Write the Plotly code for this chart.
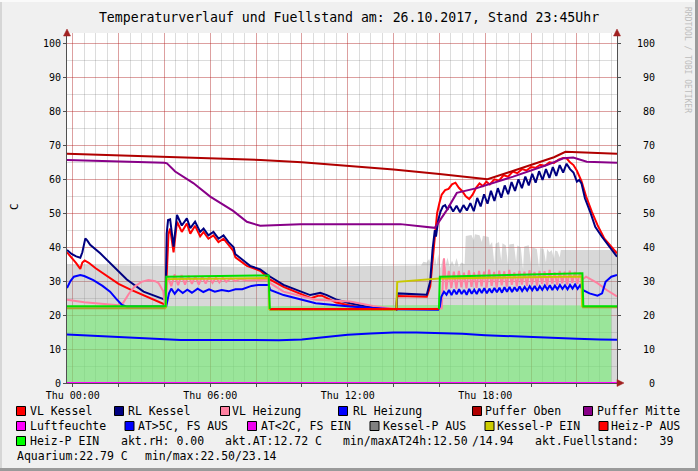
import plotly.graph_objects as go

# ---------------- data (time in hours from Thu 00:00) ----------------
X_TICK_HOURS = [0, 6, 12, 18]
X_TICK_LABELS = ["Thu 00:00", "Thu 06:00", "Thu 12:00", "Thu 18:00"]
Y_TICKS = [0, 10, 20, 30, 40, 50, 60, 70, 80, 90, 100]

# Fuellstand (grey area)
FS_T = [-0.25, 2, 5, 8, 11, 14, 15.2, 15.3, 15.45, 15.55, 15.6, 15.7,
        15.75, 15.8, 15.88, 15.95, 16.05, 16.15, 16.25, 16.35, 16.45, 16.55,
        16.65, 16.75, 16.85, 16.95, 17.1, 17.15, 17.4, 17.5, 17.55, 17.75,
        17.85, 17.9, 18.15, 18.2, 18.3, 18.4, 18.45, 18.6, 18.7, 18.75,
        18.9, 19.0, 19.05, 19.25, 19.35, 19.4, 19.55, 19.65, 19.7, 19.9,
        20.0, 20.05, 20.25, 20.35, 20.4, 20.55, 20.65, 20.7, 20.8, 20.9,
        21.0, 21.05, 21.15, 21.25, 21.3, 23.75]
FS_V = [34.8, 34.6, 34.4, 34.2, 34.3, 34.5, 34.6, 35.7, 35.5, 36.5, 35.5, 35.8,
        34.0, 37.5, 34.5, 38.0, 33.8, 36.5, 34.0, 37.0, 34.3, 36.0,
        34.5, 36.8, 34.2, 35.5, 35.0, 43.3, 43.6, 42.0, 43.8, 43.5,
        41.5, 43.4, 43.0, 40.5, 41.5, 35.0, 41.0, 41.5, 36.0, 41.2,
        40.5, 34.5, 40.8, 41.0, 35.5, 40.5, 40.0, 33.5, 40.2, 40.6,
        35.0, 40.0, 39.5, 34.0, 39.8, 39.5, 35.5, 39.5, 38.5, 39.2,
        36.5, 39.0, 38.8, 37.0, 39.2, 39.2]

# Aquarium (green area)
AQ_T = [-0.25, 4, 8, 12, 16, 20, 23.5]
AQ_V = [22.7, 22.6, 22.6, 22.8, 23.0, 22.9, 22.8]

# VL Kessel
VLK_T = [-0.25, -0.05, 0.15, 0.33, 0.42, 0.52, 0.7, 1.0, 1.5, 2.0, 2.5, 3.0, 3.5, 3.8, 4.0, 4.04,
         4.1, 4.18, 4.25, 4.4, 4.55, 4.76, 4.98, 5.13, 5.34, 5.56, 5.71, 5.92, 6.14, 6.36, 6.58, 6.8,
         7.0, 7.1, 7.6, 8.2, 8.6, 9.2, 9.9, 10.4, 10.7, 10.85, 11.1, 11.5, 12.1, 12.8, 14.0, 14.12,
         14.16, 15.45,
         15.6, 15.7, 15.8, 15.9, 16.0, 16.1, 16.25, 16.4, 16.55, 16.7, 16.85, 17.0, 17.15, 17.3,
         17.45, 17.6, 17.75, 17.9, 18.05, 18.2, 18.4, 18.6, 18.8, 19.0, 19.2, 19.4, 19.6, 19.8,
         20.0, 20.2, 20.4, 20.6, 20.8, 21.0, 21.2, 21.4, 21.55, 21.7, 21.85, 22.0, 22.2, 22.4,
         22.65, 22.9, 23.2, 23.5, 23.75]
VLK_V = [38.5, 37.0, 35.3, 33.6, 35.5, 36.1, 35.4, 33.8, 31.5, 29.2, 27.6, 26.2, 24.8, 24.0, 23.2, 22.4,
         30.0, 44.0, 45.5, 38.5, 47.5, 44.5, 47.0, 44.0, 46.3, 43.2, 44.5, 42.5, 43.5, 41.5, 42.5, 40.5,
         39.0, 37.0, 34.5, 33.0, 30.5, 28.3, 26.3, 25.0, 25.7, 25.8, 25.0, 23.7, 22.8, 22.0, 21.5, 21.5,
         25.6, 25.4,
         28.5, 36.0, 44.0, 50.0, 53.0, 55.5, 56.8, 57.2, 58.5, 59.0, 57.5, 56.5, 55.0, 54.2,
         55.5, 57.5, 58.8, 58.0, 59.3, 58.5, 60.0, 59.6, 61.2, 60.8, 62.3, 61.8, 63.0, 62.6,
         63.6, 63.4, 64.3, 64.0, 65.0, 64.8, 65.8, 66.3, 66.2, 65.0, 64.2, 62.5, 59.5, 55.0,
         50.5, 46.5, 42.5, 40.0, 38.2]

# RL Kessel
RLK_T = [-0.25, -0.05, 0.15, 0.33, 0.42, 0.55, 0.63, 0.76, 1.2, 1.64, 2.07, 2.36, 3.09, 3.82, 4.0, 4.05,
         4.1, 4.16, 4.25, 4.4, 4.55, 4.76, 4.98, 5.13, 5.34, 5.56, 5.71, 5.92, 6.14, 6.36, 6.58, 6.8,
         7.02, 7.09, 7.6, 7.74, 8.18, 8.62, 9.2, 9.93, 10.36, 10.62, 10.8, 11.09, 11.53, 12.1, 12.84,
         14.0, 14.12, 14.16, 15.45,
         15.6, 15.7, 15.8, 15.85, 15.95, 16.05, 16.15, 16.25, 16.35, 16.45, 16.6, 16.75, 16.9, 17.05,
         17.2, 17.35, 17.5, 17.65, 17.8, 17.95, 18.1, 18.25, 18.4, 18.55, 18.7, 18.85, 19.0, 19.15,
         19.3, 19.45, 19.6, 19.75, 19.9, 20.05, 20.2, 20.35, 20.5, 20.65, 20.8, 20.95, 21.1, 21.25,
         21.4, 21.55, 21.7, 21.85, 22.0, 22.1, 22.2, 22.35, 22.6, 22.8, 23.1, 23.4, 23.75]
RLK_V = [39.2, 38.0, 37.3, 36.9, 38.5, 42.6, 42.0, 40.7, 38.2, 35.3, 32.5, 30.5, 26.9, 25.0, 24.5, 24.5,
         44.0, 48.0, 48.2, 40.2, 49.5, 46.4, 48.5, 45.6, 47.5, 44.5, 45.5, 43.5, 44.5, 42.5, 43.5, 41.5,
         40.0, 38.0, 35.3, 34.5, 33.5, 31.3, 28.9, 26.9, 25.9, 26.3, 26.6, 25.9, 24.5, 23.5, 22.5,
         21.7, 21.7, 26.4, 26.0,
         30.0, 39.2, 45.0, 43.1, 48.0, 50.5, 52.0, 52.4, 51.0, 52.4, 50.5, 52.2, 50.3, 52.4,
         50.8, 53.0, 50.6, 54.5, 52.0, 55.6, 52.8, 56.6, 53.6, 57.4, 54.6, 58.2, 55.6, 59.2,
         56.6, 60.0, 57.4, 60.8, 58.2, 61.6, 59.0, 62.4, 59.8, 63.0, 60.4, 63.6, 61.0, 64.2,
         62.0, 64.6, 63.0, 62.0, 59.3, 59.8, 58.8, 54.4, 50.0, 46.0, 43.0, 40.2, 37.2]

# VL Heizung
VLH_T = [-0.25, 0.5, 1.5, 2.0, 2.2, 2.45, 2.7, 3.0, 3.3, 3.6, 3.75, 3.95, 4.03,
         4.08, 4.15, 4.3, 4.45, 4.6, 4.75, 4.9, 5.05, 5.2, 5.35, 5.5, 5.65, 5.8, 5.95, 6.1, 6.25,
         6.4, 6.55, 6.7, 6.9, 7.1, 7.3, 7.6, 8.0, 8.5, 8.62, 9.2, 10.6, 11.5, 12.1, 13.1, 14.0,
         15.6, 16.1,
         16.2, 16.3, 16.41, 16.52, 16.63, 16.74, 16.85, 16.96, 17.07, 17.18, 17.29, 17.4, 17.51,
         17.62, 17.73, 17.84, 17.95, 18.06, 18.17, 18.28, 18.39, 18.5, 18.61, 18.72, 18.83, 18.94,
         19.05, 19.16, 19.27, 19.38, 19.49, 19.6, 19.71, 19.82, 19.93, 20.04, 20.15, 20.26, 20.37,
         20.48, 20.59, 20.7, 20.81, 20.92, 21.03, 21.14, 21.25, 21.36, 21.47, 21.58, 21.69, 21.8,
         21.91, 22.02, 22.13, 22.24, 22.4, 22.9, 23.3, 23.75]
VLH_V = [24.5, 23.8, 23.2, 22.9, 23.6, 26.3, 28.4, 29.8, 30.3, 30.0, 29.4, 27.0, 22.5,
         27.0, 31.5, 28.5, 32.0, 28.8, 31.8, 29.0, 31.6, 29.2, 31.5, 29.0, 31.4, 29.3, 31.2, 29.5, 31.0,
         29.6, 31.0, 29.8, 30.8, 30.0, 30.6, 30.2, 30.4, 30.5, 29.4, 26.9, 24.5, 24.1, 24.0, 22.7, 21.9,
         21.7, 22.0,
         36.7, 27.5, 33.0, 28.0, 32.8, 27.8, 33.0, 28.2, 32.5, 27.9, 33.2, 28.3, 32.6,
         28.0, 33.0, 28.5, 32.8, 28.1, 33.4, 28.6, 32.7, 28.2, 33.1, 28.8, 32.9, 28.4,
         33.3, 28.9, 32.6, 28.5, 33.0, 29.0, 32.8, 28.6, 33.2, 29.1, 32.7, 28.7, 33.0,
         29.2, 32.9, 28.8, 33.3, 29.3, 32.6, 28.9, 33.0, 29.4, 32.8, 29.0, 33.1, 29.5,
         32.7, 29.2, 32.5, 30.5, 31.3, 29.4, 27.4, 25.5]

# RL Heizung
RLH_T = [-0.25, -0.1, 0.05, 0.33, 0.5, 0.9, 1.3, 1.63, 1.9, 2.15, 2.36, 4.0, 4.08,
         4.2, 4.3, 4.45, 4.6, 4.8, 5.0, 5.2, 5.45, 5.7, 5.95, 6.2, 6.5, 6.8, 7.1, 7.4, 7.8, 8.1,
         8.45, 8.55, 8.62, 9.2, 10.6, 12.1, 14.0, 15.95, 16.02,
         16.08, 16.2, 16.31, 16.42, 16.53, 16.64, 16.75, 16.86, 16.97, 17.08, 17.19, 17.3, 17.41,
         17.52, 17.63, 17.74, 17.85, 17.96, 18.07, 18.18, 18.29, 18.4, 18.51, 18.62, 18.73, 18.84,
         18.95, 19.06, 19.17, 19.28, 19.39, 19.5, 19.61, 19.72, 19.83, 19.94, 20.05, 20.16, 20.27,
         20.38, 20.49, 20.6, 20.71, 20.82, 20.93, 21.04, 21.15, 21.26, 21.37, 21.48, 21.59, 21.7,
         21.81, 21.92, 22.03, 22.14, 22.25, 22.55, 22.9, 23.1, 23.25, 23.5, 23.75]
RLH_V = [28.0, 30.0, 31.3, 31.8, 31.5, 30.3, 28.6, 26.9, 24.8, 23.0, 22.5, 22.4, 22.6,
         26.4, 27.8, 26.3, 27.6, 26.5, 27.5, 26.6, 27.8, 26.8, 27.6, 26.9, 27.4, 27.0, 27.6, 27.6, 28.6, 28.9,
         28.9, 28.9, 27.4, 25.9, 23.5, 22.5, 21.7, 21.6, 22.5,
         25.4, 26.9, 26.0, 27.4, 25.9, 27.5, 26.1, 27.6, 26.2, 27.4, 26.0, 27.7, 26.3,
         27.5, 26.2, 27.8, 26.5, 27.9, 26.4, 27.8, 26.6, 28.0, 26.7, 28.1, 26.6, 28.2,
         26.9, 28.3, 26.8, 28.2, 27.0, 28.4, 27.1, 28.3, 27.2, 28.5, 27.3, 28.6, 27.2,
         28.5, 27.4, 28.7, 27.5, 28.8, 27.4, 28.7, 27.6, 28.9, 27.7, 28.8, 27.6, 28.9,
         27.8, 29.0, 27.7, 28.8, 27.4, 26.4, 25.7, 26.4, 29.8, 31.3, 31.8]

# Puffer Oben
PO_T = [-0.25, 2, 4, 6, 8.2, 10, 12, 14, 16, 17, 17.6, 18.1, 19.0, 20.0, 21.0, 21.5, 22.0, 23.0, 23.75]
PO_V = [67.5, 67.0, 66.6, 66.2, 65.7, 65.0, 64.0, 62.9, 61.6, 60.9, 60.3, 60.0, 62.0, 64.3, 66.5, 68.1, 68.0, 67.7, 67.5]

# Puffer Mitte
PM_T = [-0.25, 2, 4.0, 4.11, 4.47, 5.26, 6.0, 7.0, 7.6, 8.18, 9.93, 14.3, 15.8, 16.33, 16.76,
        17.63, 19.22, 20.69, 21.41, 21.84, 22.43, 23.75]
PM_V = [65.7, 65.3, 64.9, 64.7, 62.3, 58.9, 54.9, 50.7, 47.5, 46.3, 46.8, 46.8, 45.7, 51.0, 56.0,
        57.4, 60.8, 64.2, 66.2, 66.4, 65.2, 64.9]

# Luftfeuchte (akt.rH 0.00)
LF_T = [-0.25, 23.75]
LF_V = [0.0, 0.0]

# Aussentemperatur
AT_T = [-0.25, 1.0, 2.4, 3.8, 4.7, 6.0, 7.0, 8.0, 9.0, 10.0, 10.7, 12.0, 13.0, 14.0, 15.0, 16.0,
        17.0, 18.0, 19.0, 20.0, 21.0, 22.0, 23.0, 23.75]
AT_V = [14.3, 13.9, 13.5, 12.9, 12.7, 12.7, 12.6, 12.5, 12.6, 12.8, 13.3, 14.2, 14.6, 14.9, 14.9, 14.8,
        14.5, 14.1, 13.8, 13.4, 13.2, 13.0, 12.8, 12.72]

# Kessel-Pumpe
KE_T = [4.06, 4.09, 8.55, 8.58, None, 14.12, 14.16, 16.0, 19.0, 22.2, 22.23]
KE_V = [22.0, 30.6, 30.9, 21.5, None, 21.5, 29.8, 30.8, 31.1, 31.4, 22.3]
KA_T = [-0.25, 4.06, None, 8.58, 14.12, None, 22.23, 23.75]
KA_V = [22.0, 22.0, None, 21.5, 21.5, None, 22.3, 22.3]

# Heiz-Pumpe
HE_T = [-0.25, 4.05, 4.08, 6.0, 8.55, 8.6, None, 15.98, 16.02, 19.0, 22.24, 22.28, 23.75]
HE_V = [22.6, 22.6, 31.3, 31.5, 31.7, 21.8, None, 21.8, 31.3, 31.8, 32.3, 22.6, 22.6]
HA_T = [8.6, 15.98]
HA_V = [21.8, 21.8]

# ---------------- styling ----------------
C_VLK, C_RLK, C_VLH, C_RLH = "#FF0000", "#000080", "#FF80A0", "#0000FF"
C_PO, C_PM, C_LF = "#B00000", "#880088", "#FF00FF"
C_AT1, C_AT2 = "#0000FF", "#EE00EE"
C_KA, C_KE, C_HA, C_HE = "#808080", "#CCCC00", "#FF0000", "#00FF00"

MONO = "DejaVu Sans Mono"
W, H = 698, 471
L, R, T, B = 67, 617, 33, 383
PW, PH = R - L, B - T
YMAX = 103.1


def px(x):
    return (x - L) / PW


def py(y):
    return (B - y) / PH


fig = go.Figure()


def line(xs, ys, color, width=2, yaxis="y"):
    fig.add_trace(go.Scatter(x=xs, y=ys, mode="lines", yaxis=yaxis,
                             line=dict(color=color, width=width),
                             connectgaps=False, hoverinfo="skip", showlegend=False))


fig.add_trace(go.Scatter(x=FS_T, y=FS_V, mode="lines", fill="tozeroy",
                         fillcolor="rgba(150,150,150,0.37)", line=dict(width=0),
                         hoverinfo="skip", showlegend=False))
fig.add_trace(go.Scatter(x=AQ_T, y=AQ_V, mode="lines", fill="tozeroy",
                         fillcolor="rgba(104,241,104,0.55)", line=dict(width=0),
                         hoverinfo="skip", showlegend=False))

line(VLK_T, VLK_V, C_VLK)
line(RLK_T, RLK_V, C_RLK)
line(VLH_T, VLH_V, C_VLH)
line(RLH_T, RLH_V, C_RLH)
line(PO_T, PO_V, C_PO)
line(PM_T, PM_V, C_PM)
line(AT_T, AT_V, C_AT1)
line(KA_T, KA_V, "#A8A42C")
line(KE_T, KE_V, "#C8C800")
line(HA_T, HA_V, C_HA)
line(HE_T, HE_V, "#00E000")
line(LF_T, LF_V, C_LF, yaxis="y2")

# axes
tickvals_x = list(range(0, 24, 2))
ticktext_x = [X_TICK_LABELS[X_TICK_HOURS.index(h)] if h in X_TICK_HOURS else "" for h in tickvals_x]
MAJOR = "rgba(225,0,0,0.27)"
MINOR = "rgba(110,110,110,0.24)"
AXC = "#505050"

fig.update_layout(
    width=W, height=H,
    margin=dict(l=L, r=W - R, t=T, b=H - B, pad=0),
    paper_bgcolor="#F0F0F0", plot_bgcolor="#FFFFFF",
    font=dict(family=MONO, size=10, color="#000000"),
    showlegend=False,
    hovermode=False,
    title=dict(text="Temperaturverlauf und Fuellstand am: 26.10.2017, Stand 23:45Uhr",
               x=0.5, xref="container", xanchor="center",
               y=1 - 17 / H, yref="container", yanchor="middle",
               font=dict(family=MONO, size=13.2, color="#000000")),
    xaxis=dict(range=[-0.25, 23.75], tickvals=tickvals_x, ticktext=ticktext_x,
               showgrid=True, gridcolor=MAJOR, gridwidth=1,
               minor=dict(dtick=0.5, tick0=0, showgrid=True, gridcolor=MINOR, gridwidth=1),
               showline=True, linecolor=AXC, linewidth=1, ticks="outside", ticklen=3,
               tickcolor=AXC, zeroline=False, tickfont=dict(family=MONO, size=10, color="#000")),
    yaxis=dict(range=[0, YMAX], tickvals=Y_TICKS, ticktext=[str(v) for v in Y_TICKS],
               showgrid=True, gridcolor=MAJOR, gridwidth=1,
               minor=dict(dtick=5, tick0=0, showgrid=True, gridcolor=MINOR, gridwidth=1),
               showline=True, mirror=True, linecolor=AXC, linewidth=1,
               ticks="outside", ticklen=3, tickcolor=AXC, zeroline=False,
               tickfont=dict(family=MONO, size=10, color="#000")),
    yaxis2=dict(range=[0, YMAX], overlaying="y", side="right",
                tickvals=Y_TICKS, ticktext=[str(v).rjust(3, "\u00a0") for v in Y_TICKS],
                showgrid=False, zeroline=False, showline=False,
                ticks="outside", ticklen=3, tickcolor=AXC, ticklabelstandoff=14,
                tickfont=dict(family=MONO, size=10, color="#000")),
)

shapes = []
ARROW = "#A02020"


def tri(points):
    d = "M " + " L ".join(f"{px(x)},{py(y)}" for x, y in points) + " Z"
    shapes.append(dict(type="path", path=d, xref="paper", yref="paper",
                       fillcolor=ARROW, line=dict(color=ARROW, width=0.5)))


tri([(L, 29), (L - 3.5, 36), (L + 3.5, 36)])
tri([(R, 29), (R - 3.5, 36), (R + 3.5, 36)])
tri([(R + 7, B), (R, B - 3.5), (R, B + 3.5)])

# frame
shapes.append(dict(type="line", xref="paper", yref="paper", x0=px(1), x1=px(1), y0=py(0), y1=py(H),
                   line=dict(color="#D6D6D6", width=2)))
shapes.append(dict(type="line", xref="paper", yref="paper", x0=px(0), x1=px(W), y0=py(1), y1=py(1),
                   line=dict(color="#FAFAFA", width=2)))
shapes.append(dict(type="line", xref="paper", yref="paper", x0=px(W - 1.5), x1=px(W - 1.5), y0=py(0), y1=py(H),
                   line=dict(color="#9A9A9A", width=3)))
shapes.append(dict(type="line", xref="paper", yref="paper", x0=px(0), x1=px(W), y0=py(H - 1.5), y1=py(H - 1.5),
                   line=dict(color="#9A9A9A", width=3)))

annotations = []


def text(x, y, s, size=11.5, color="#000000", angle=0, xanchor="left"):
    annotations.append(dict(x=px(x), y=py(y), xref="paper", yref="paper", text=s,
                            showarrow=False, xanchor=xanchor, yanchor="middle", textangle=angle,
                            borderpad=0, font=dict(family=MONO, size=size, color=color)))


# legend
LEG = [
    (411, [("VL Kessel", C_VLK, 16.5, 30.3), ("RL Kessel", C_RLK, 114.5, 128.2),
           ("VL Heizung", C_VLH, 220.5, 232.4), ("RL Heizung", C_RLH, 338.5, 352.6),
           ("Puffer Oben", C_PO, 472.5, 485.3), ("Puffer Mitte", C_PM, 583.5, 596.6)]),
    (426, [("Luftfeuchte", C_LF, 16.5, 30.3), ("AT>5C, FS AUS", C_AT1, 125, 138),
           ("AT<2C, FS EIN", C_AT2, 247.5, 260.5), ("Kessel-P AUS", C_KA, 370, 382.9),
           ("Kessel-P EIN", C_KE, 485, 497.3), ("Heiz-P AUS", C_HA, 599, 611.3)]),
    (441, [("Heiz-P EIN", C_HE, 16.5, 30.3)]),
]
for yc, items in LEG:
    for name, col, bx, tx in items:
        shapes.append(dict(type="rect", xref="paper", yref="paper",
                           x0=px(bx), x1=px(bx + 9), y0=py(yc - 4.5), y1=py(yc + 4.5),
                           fillcolor=col, line=dict(color="#000000", width=1)))
        text(tx - 1, yc, name)

text(119.5, 441, "akt.rH: 0.00")
text(223.5, 441, "akt.AT:12.72 C")
text(341.5, 441, "min/maxAT24h:12.50")
text(470.5, 441, "/14.94")
text(533.5, 441, "akt.Fuellstand:\u00a0\u00a0\u00a039")
text(16, 456, "Aquarium:22.79 C")
text(144, 456, "min/max:22.50/23.14")

# axis unit and watermark
text(14, 207, "C", size=11, angle=-90, xanchor="center")
text(688, 60, "RRDTOOL / TOBI OETIKER", size=8, color="#BDBDBD", angle=90, xanchor="center")

fig.update_layout(shapes=shapes, annotations=annotations)
fig.write_html("out.html", config={"displayModeBar": False, "staticPlot": True},
               post_script="document.body.style.margin='0px';")
